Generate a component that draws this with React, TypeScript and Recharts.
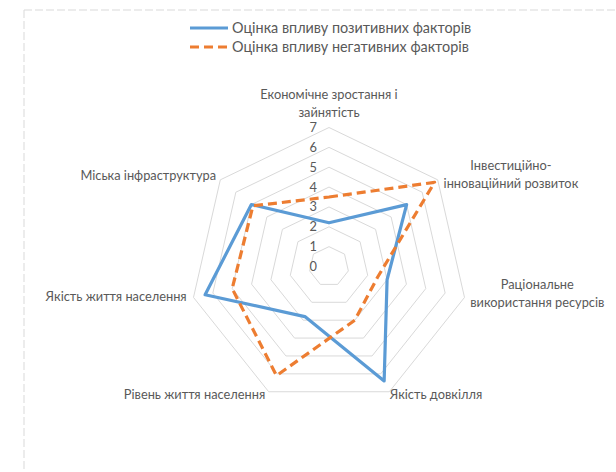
import React from "react";
import {
  RadarChart, Radar, PolarGrid, PolarAngleAxis, PolarRadiusAxis, Legend,
} from "recharts";

// категорії (за годинниковою стрілкою від верху), "\n" — перенос рядка
const categories = [
  "Економічне зростання і\nзайнятість",
  "Інвестиційно-\nінноваційний розвиток",
  "Раціональне\nвикористання ресурсів",
  "Якість довкілля",
  "Рівень життя населення",
  "Якість життя населення",
  "Міська інфраструктура",
];
const positive = [2.2, 5, 3, 6.4, 2.8, 6.4, 5];
const negative = [3.5, 6.8, 2.5, 3, 6.1, 5, 4.9];
const radiusTicks = [0, 1, 2, 3, 4, 5, 6, 7];
const seriesNames = ["Оцінка впливу позитивних факторів", "Оцінка впливу негативних факторів"];

const data = categories.map((c, i) => ({ cat: c, pos: positive[i], neg: negative[i] }));

const TEXT = "#595959";
const FONT = "Lato, 'Open Sans', sans-serif";

// розміщення підписів осей відносно точки, яку дає бібліотека
const labelPos = [
  { anchor: "middle", dx: 0, dy: -20.5 },
  { anchor: "middle", dx: 67, dy: -4.8 },
  { anchor: "middle", dx: 65, dy: -10 },
  { anchor: "start", dx: -3, dy: 0 },
  { anchor: "end", dx: 0, dy: 0 },
  { anchor: "end", dx: 1, dy: 2 },
  { anchor: "end", dx: 2, dy: 5 },
];

// eslint-disable-next-line @typescript-eslint/no-explicit-any
function AngleTick(props: any) {
  const { x, y, payload, index } = props;
  const p = labelPos[index] || { anchor: "middle", dx: 0, dy: 0 };
  const lines = String(payload.value).split("\n");
  return (
    <text x={x + p.dx} y={y + p.dy} textAnchor={p.anchor} fill={TEXT} fontSize={12.8} fontFamily={FONT}>
      {lines.map((l, i) => (
        <tspan key={i} x={x + p.dx} dy={i === 0 ? 0 : 18}>{l}</tspan>
      ))}
    </text>
  );
}

// eslint-disable-next-line @typescript-eslint/no-explicit-any
function RadiusTick(props: any) {
  const { x, y, payload } = props;
  return (
    <text x={x - 12} y={y + 4.5} textAnchor="end" fill={TEXT} fontSize={12.8} fontFamily={FONT}>
      {payload.value}
    </text>
  );
}

// eslint-disable-next-line @typescript-eslint/no-explicit-any
function LegendBox(props: any) {
  // порядок як у серій, а не за алфавітом
  const items = [...(props.payload || [])].sort(
    (a: any, b: any) => seriesNames.indexOf(a.value) - seriesNames.indexOf(b.value),
  );
  return (
    <div style={{ fontFamily: FONT, fontSize: 14.4, color: TEXT }}>
      {items.map((e: any, i: number) => (
        <div key={i} style={{ display: "flex", alignItems: "center", height: 19 }}>
          <svg width={38} height={6} style={{ marginRight: 4 }}>
            <line x1={0} y1={3} x2={38} y2={3} stroke={e.color} strokeWidth={3}
              strokeDasharray={e.payload?.strokeDasharray} />
          </svg>
          <span>{e.value}</span>
        </div>
      ))}
    </div>
  );
}

export default function App() {
  return (
    <div style={{ position: "absolute", left: 0, top: 0, width: 616, height: 472, overflow: "hidden", background: "#fff" }}>
      <svg width={616} height={472} style={{ position: "absolute", left: 0, top: 0 }}>
        <line x1={24} y1={10} x2={616} y2={10} stroke="#d9d9d9" strokeDasharray="8 3" />
        <line x1={24} y1={10} x2={24} y2={472} stroke="#d9d9d9" strokeDasharray="8 3" />
      </svg>
      <div style={{ position: "absolute", left: 0, top: 0 }}>
        <RadarChart width={616} height={472} data={data} cx={329} cy={266.5} outerRadius={139} startAngle={90} endAngle={-270}>
          <PolarGrid gridType="polygon" radialLines={false} stroke="#d9d9d9" />
          <PolarAngleAxis dataKey="cat" tick={<AngleTick />} tickLine={false} axisLine={false} />
          <PolarRadiusAxis angle={90} domain={[0, 7]} ticks={radiusTicks as any} tickCount={8}
            axisLine={false} tick={<RadiusTick />} />
          <Legend verticalAlign="top" content={<LegendBox />}
            wrapperStyle={{ top: 18, left: 190, width: "auto" }} />
          <Radar name={seriesNames[0]} dataKey="pos" stroke="#5B9BD5" strokeWidth={3.2} fill="none" fillOpacity={0}
            strokeLinejoin="round" dot={false} isAnimationActive={false} />
          <Radar name={seriesNames[1]} dataKey="neg" stroke="#ED7D31" strokeWidth={3.2} fill="none" fillOpacity={0}
            strokeDasharray="9 5" strokeLinejoin="round" dot={false} isAnimationActive={false} />
        </RadarChart>
      </div>
    </div>
  );
}
